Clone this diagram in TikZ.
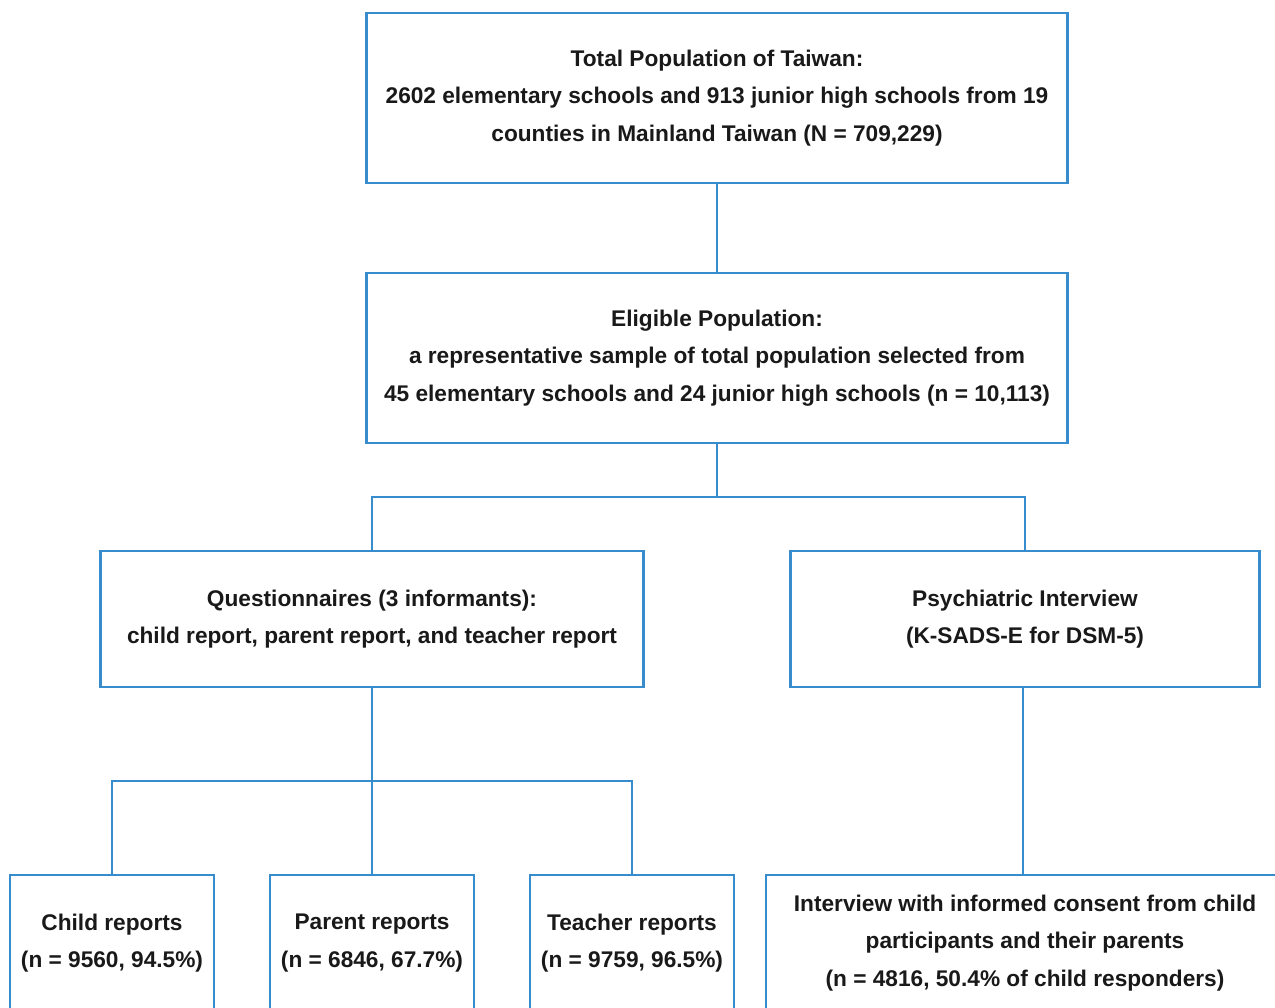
\documentclass[tikz,border=0pt]{standalone}
\usepackage{fontspec}
\setmainfont{Liberation Sans}
\usetikzlibrary{positioning}
\definecolor{flowblue}{RGB}{55,140,205}
\tikzstyle{every node}=[align=center,font=\bfseries\fontsize{12.9}{21.3}\selectfont,text=black!90]
\tikzstyle{stage}=[draw=flowblue,line width=1.2pt,fill=white,inner sep=0pt]
\tikzstyle{wide}=[stage,minimum width=14.02cm,minimum height=3.4cm]
\tikzstyle{report}=[stage,minimum width=4.08cm,minimum height=2.72cm]
\tikzstyle{link}=[draw=flowblue,line width=1.3pt]

\begin{document}
\begin{tikzpicture}
  \useasboundingbox (0,0) rectangle (25.5,-20.16);
  \clip (0,0) rectangle (25.5,-20.16);
  % top two levels
  \node [wide] (total) at (14.34,-1.96) {Total Population of Taiwan:\\
    2602 elementary schools and 913 junior high schools from 19\\
    counties in Mainland Taiwan (N = 709,229)};
  \node [wide] (eligible) at (14.34,-7.16) {Eligible Population:\\
    a representative sample of total population selected from\\
    45 elementary schools and 24 junior high schools (n = 10,113)};
  % methods
  \node [stage,minimum width=10.86cm,minimum height=2.72cm] (quest) at (7.44,-12.38)
    {Questionnaires (3 informants):\\child report, parent report, and teacher report};
  \node [stage,minimum width=9.38cm,minimum height=2.72cm] (psych) at (20.5,-12.38)
    {Psychiatric Interview\\(K-SADS-E for DSM-5)};
  % results
  \node [report] (child) at (2.24,-18.86) {Child reports\\(n = 9560, 94.5\%)};
  \node [report] (parent) at (7.44,-18.86) {Parent reports\\(n = 6846, 67.7\%)};
  \node [report] (teacher) at (12.64,-18.86) {Teacher reports\\(n = 9759, 96.5\%)};
  \node [stage,minimum width=10.36cm,minimum height=2.72cm] (interview) at (20.5,-18.86)
    {Interview with informed consent from child\\participants and their parents\\
    (n = 4816, 50.4\% of child responders)};
  \coordinate (split1) at (14.34,-9.94);
  \coordinate (split2) at (7.44,-15.62);
  \draw [link] (total) -- (eligible);
  \draw [link] (eligible) -- (split1);
  \draw [link] (split1) -| (quest);
  \draw [link] (split1) -| (psych);
  \draw [link] (quest) -- (split2);
  \draw [link] (split2) -| (child);
  \draw [link] (split2) -| (parent);
  \draw [link] (split2) -| (teacher);
  \draw [link] ([xshift=-0.04cm]psych.south) -- ([xshift=-0.04cm]psych.south |- interview.north);
\end{tikzpicture}
\end{document}
